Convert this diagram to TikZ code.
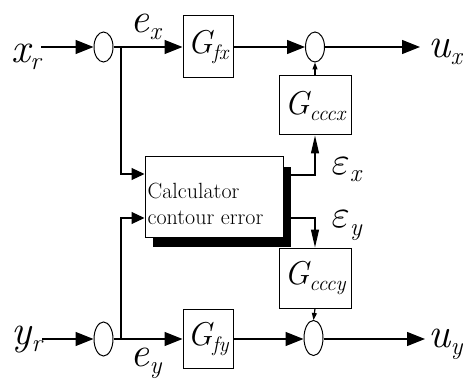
\documentclass[tikz,border=0pt]{standalone}
\usepackage{graphicx}
\usepackage{fontspec}
\usetikzlibrary{arrows.meta,shapes.geometric,shadows,calc}
\newcommand\bigv{\fontsize{42}{42}\selectfont\itshape}
\newcommand\smv{\fontsize{25}{25}\selectfont\itshape}
\newcommand\gbig{\fontsize{33}{33}\selectfont\itshape}
\newcommand\gsm{\fontsize{21}{21}\selectfont\itshape}
\newcommand\lbl[2]{{\bigv #1}\raisebox{-7pt}{\smv #2}}
\newcommand\glbl[1]{{\gbig G}\raisebox{-6pt}{\gsm #1}}
\newcommand\epsl[1]{\scalebox{3.9}{$\varepsilon$}\raisebox{-7pt}{\smv #1}}
\begin{document}
\begin{tikzpicture}[x=1pt,y=-1pt,line width=1.2pt,
  blk/.style={draw,line width=1pt,minimum width=50pt,minimum height=62pt,inner sep=0pt},
  sumn/.style={draw,ellipse,line width=1pt,minimum width=19pt,minimum height=30pt,inner sep=0pt},
  arr/.style={-{Triangle[length=18pt,width=14pt]}},
  iarr/.style={-{Triangle[length=13pt,width=12pt]}},
  earr/.style={-{Triangle[length=18pt,width=8pt]}},
  sarr/.style={-{Triangle[length=7pt,width=5pt]}},
  lab/.style={inner sep=0pt}
]
\useasboundingbox (0,0) rectangle (463,390);
% top row
\node[lab,anchor=base west] (xr) at (11,63) {\lbl{x}{r}};
\node[sumn] (e1) at (103.5,47) {};
\node[blk] (gfx) at (208,47) {\glbl{fx}};
\node[sumn] (s1) at (315,47) {};
\node[lab,anchor=base west] (ux) at (428,58) {\lbl{u}{x}};
\node[lab,anchor=base west] (ex) at (130,33) {\lbl{e}{x}};
\coordinate (b1) at (121,47);
% feedback blocks
\node[blk,minimum width=72pt,minimum height=59pt] (gcx) at (315,105.5) {\glbl{cccx}};
\node[blk,minimum width=72pt,minimum height=60pt] (gcy) at (315,278) {\glbl{cccy}};
% calculator
\node[draw,line width=1pt,fill=white,minimum width=138pt,minimum height=80pt,
      inner sep=0pt,align=left,font=\fontsize{22}{26}\selectfont,
      drop shadow={shadow xshift=8pt,shadow yshift=-10pt,fill=black,opacity=1}]
      (calc) at (214,197) {\rule{0pt}{29pt}Calculator\\contour error\hspace*{17pt}};
% bottom row
\node[lab,anchor=base west] (yr) at (11,344) {\lbl{y}{r}};
\node[sumn,minimum height=34pt] (e2) at (103.5,339) {};
\node[blk,minimum height=59pt] (gfy) at (208,339) {\glbl{fy}};
\node[sumn,minimum height=35pt] (s2) at (313.5,338) {};
\node[lab,anchor=base west] (uy) at (428,347) {\lbl{u}{y}};
\node[lab,anchor=base west] (ey) at (130,366) {\lbl{e}{y}};
\coordinate (b2) at (121,339);
\node[lab,anchor=base west] (epsx) at (331,175) {\epsl{x}};
\node[lab,anchor=base west] (epsy) at (331,228) {\epsl{y}};
% connectors
\draw[arr] (xr.east |- e1.west) -- (e1.west);
\draw[arr] (e1.east) -- (gfx.west);
\draw[arr] (gfx.east) -- (s1.west);
\draw[arr] (s1.east) -- ($(ux.west |- s1.east)+(-8,0)$);
\draw[sarr] (gcx.north) -- (s1.south);
\draw[iarr] (b1) |- ([yshift=23pt]calc.west);
\draw[iarr] (b2) |- ([yshift=-21pt]calc.west);
\draw[earr] ([yshift=22pt]calc.east) -| (gcx.south);
\draw[earr] ([yshift=-21pt]calc.east) -| (gcy.north);
\draw[arr] (yr.east |- e2.west) -- (e2.west);
\draw[arr] (e2.east) -- (gfy.west);
\draw[arr] (gfy.east) -- (s2.west |- gfy.east);
\draw[arr] (s2.east |- gfy.east) -- ($(uy.west |- gfy.east)+(-3,0)$);
\draw[sarr] (gcy.south) -- (s2.north);
\end{tikzpicture}
\end{document}
